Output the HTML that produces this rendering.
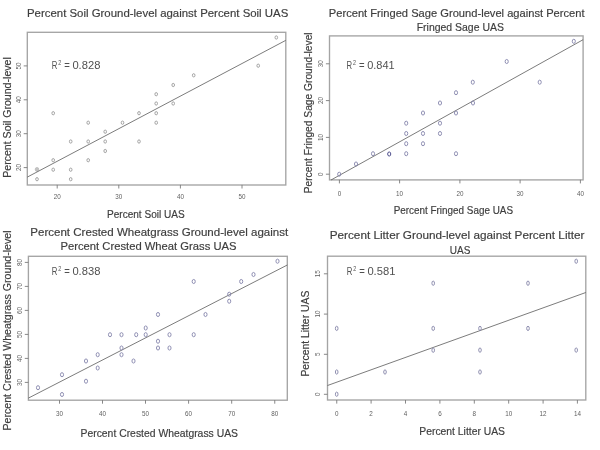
<!DOCTYPE html>
<html><head><meta charset="utf-8"><title>Ground-level vs UAS</title>
<style>
html,body{margin:0;padding:0;background:#fff;}
body{width:600px;height:450px;overflow:hidden;}
svg{display:block;font-family:"Liberation Sans", Arial, sans-serif;}
</style></head>
<body>
<svg width="600" height="450" viewBox="0 0 600 450">
<rect width="600" height="450" fill="#fff"/>
<text x="27.00" y="17.40" font-size="11.59" fill="#3e3e3e" stroke="#3e3e3e" stroke-width="0.18" textLength="261.30" lengthAdjust="spacingAndGlyphs">Percent Soil Ground-level against Percent Soil UAS</text>
<rect x="27.30" y="32.30" width="258.50" height="152.70" fill="none" stroke="#a4a4a4" stroke-width="1.35"/>
<line x1="23.70" y1="167.60" x2="27.30" y2="167.60" stroke="#7a7a7a" stroke-width="0.9"/>
<text transform="translate(20.60,167.60) rotate(-90)" x="-3.50" y="0" font-size="7.2" fill="#5e5e5e" textLength="7.00" lengthAdjust="spacingAndGlyphs">20</text>
<line x1="23.70" y1="133.70" x2="27.30" y2="133.70" stroke="#7a7a7a" stroke-width="0.9"/>
<text transform="translate(20.60,133.70) rotate(-90)" x="-3.50" y="0" font-size="7.2" fill="#5e5e5e" textLength="7.00" lengthAdjust="spacingAndGlyphs">30</text>
<line x1="23.70" y1="99.80" x2="27.30" y2="99.80" stroke="#7a7a7a" stroke-width="0.9"/>
<text transform="translate(20.60,99.80) rotate(-90)" x="-3.50" y="0" font-size="7.2" fill="#5e5e5e" textLength="7.00" lengthAdjust="spacingAndGlyphs">40</text>
<line x1="23.70" y1="65.90" x2="27.30" y2="65.90" stroke="#7a7a7a" stroke-width="0.9"/>
<text transform="translate(20.60,65.90) rotate(-90)" x="-3.50" y="0" font-size="7.2" fill="#5e5e5e" textLength="7.00" lengthAdjust="spacingAndGlyphs">50</text>
<line x1="57.20" y1="184.90" x2="57.20" y2="188.50" stroke="#7a7a7a" stroke-width="0.9"/>
<text x="53.70" y="199.10" font-size="7.2" fill="#5e5e5e" textLength="7.00" lengthAdjust="spacingAndGlyphs">20</text>
<line x1="118.80" y1="184.90" x2="118.80" y2="188.50" stroke="#7a7a7a" stroke-width="0.9"/>
<text x="115.30" y="199.10" font-size="7.2" fill="#5e5e5e" textLength="7.00" lengthAdjust="spacingAndGlyphs">30</text>
<line x1="180.40" y1="184.90" x2="180.40" y2="188.50" stroke="#7a7a7a" stroke-width="0.9"/>
<text x="176.90" y="199.10" font-size="7.2" fill="#5e5e5e" textLength="7.00" lengthAdjust="spacingAndGlyphs">40</text>
<line x1="242.00" y1="184.90" x2="242.00" y2="188.50" stroke="#7a7a7a" stroke-width="0.9"/>
<text x="238.50" y="199.10" font-size="7.2" fill="#5e5e5e" textLength="7.00" lengthAdjust="spacingAndGlyphs">50</text>
<ellipse cx="37.0" cy="169.4" rx="1.8" ry="2.0" fill="#c4c4c4" stroke="#b0b0b0" stroke-width="0.6"/>
<line x1="27.30" y1="177.10" x2="285.70" y2="40.40" stroke="#5a5a5a" stroke-width="0.8"/>
<ellipse cx="276.30" cy="37.50" rx="1.3" ry="1.65" fill="none" stroke="#959595" stroke-width="0.85"/>
<ellipse cx="258.20" cy="65.70" rx="1.3" ry="1.65" fill="none" stroke="#959595" stroke-width="0.85"/>
<ellipse cx="193.70" cy="75.30" rx="1.3" ry="1.65" fill="none" stroke="#959595" stroke-width="0.85"/>
<ellipse cx="173.20" cy="85.00" rx="1.3" ry="1.65" fill="none" stroke="#959595" stroke-width="0.85"/>
<ellipse cx="156.20" cy="94.20" rx="1.3" ry="1.65" fill="none" stroke="#959595" stroke-width="0.85"/>
<ellipse cx="156.20" cy="103.50" rx="1.3" ry="1.65" fill="none" stroke="#959595" stroke-width="0.85"/>
<ellipse cx="173.20" cy="103.50" rx="1.3" ry="1.65" fill="none" stroke="#959595" stroke-width="0.85"/>
<ellipse cx="156.20" cy="113.20" rx="1.3" ry="1.65" fill="none" stroke="#959595" stroke-width="0.85"/>
<ellipse cx="139.00" cy="113.20" rx="1.3" ry="1.65" fill="none" stroke="#959595" stroke-width="0.85"/>
<ellipse cx="53.20" cy="113.20" rx="1.3" ry="1.65" fill="none" stroke="#959595" stroke-width="0.85"/>
<ellipse cx="88.20" cy="122.70" rx="1.3" ry="1.65" fill="none" stroke="#959595" stroke-width="0.85"/>
<ellipse cx="122.50" cy="122.70" rx="1.3" ry="1.65" fill="none" stroke="#959595" stroke-width="0.85"/>
<ellipse cx="156.20" cy="122.70" rx="1.3" ry="1.65" fill="none" stroke="#959595" stroke-width="0.85"/>
<ellipse cx="105.20" cy="131.70" rx="1.3" ry="1.65" fill="none" stroke="#959595" stroke-width="0.85"/>
<ellipse cx="70.70" cy="141.50" rx="1.3" ry="1.65" fill="none" stroke="#959595" stroke-width="0.85"/>
<ellipse cx="88.20" cy="141.50" rx="1.3" ry="1.65" fill="none" stroke="#959595" stroke-width="0.85"/>
<ellipse cx="105.20" cy="141.50" rx="1.3" ry="1.65" fill="none" stroke="#959595" stroke-width="0.85"/>
<ellipse cx="139.00" cy="141.50" rx="1.3" ry="1.65" fill="none" stroke="#959595" stroke-width="0.85"/>
<ellipse cx="105.20" cy="151.00" rx="1.3" ry="1.65" fill="none" stroke="#959595" stroke-width="0.85"/>
<ellipse cx="53.20" cy="160.20" rx="1.3" ry="1.65" fill="none" stroke="#959595" stroke-width="0.85"/>
<ellipse cx="88.20" cy="160.20" rx="1.3" ry="1.65" fill="none" stroke="#959595" stroke-width="0.85"/>
<ellipse cx="53.20" cy="169.70" rx="1.3" ry="1.65" fill="none" stroke="#959595" stroke-width="0.85"/>
<ellipse cx="70.70" cy="169.70" rx="1.3" ry="1.65" fill="none" stroke="#959595" stroke-width="0.85"/>
<ellipse cx="37.00" cy="179.20" rx="1.3" ry="1.65" fill="none" stroke="#959595" stroke-width="0.85"/>
<ellipse cx="70.70" cy="179.20" rx="1.3" ry="1.65" fill="none" stroke="#959595" stroke-width="0.85"/>
<text x="51.80" y="68.50" font-size="10.34" fill="#505050" textLength="5.6" lengthAdjust="spacingAndGlyphs">R</text>
<text x="58.30" y="64.80" font-size="7.85" fill="#505050" textLength="3.0" lengthAdjust="spacingAndGlyphs">2</text>
<text x="64.20" y="68.50" font-size="10.34" fill="#505050" textLength="5.6" lengthAdjust="spacingAndGlyphs">=</text>
<text x="72.40" y="68.50" font-size="10.34" fill="#505050" textLength="28.00" lengthAdjust="spacingAndGlyphs">0.828</text>
<text x="107.00" y="217.50" font-size="10.47" fill="#3e3e3e" stroke="#3e3e3e" stroke-width="0.18" textLength="77.70" lengthAdjust="spacingAndGlyphs">Percent Soil UAS</text>
<text transform="translate(10.50,177.80) rotate(-90)" x="0" y="0" font-size="10.47" fill="#3e3e3e" stroke="#3e3e3e" stroke-width="0.18" textLength="120.60" lengthAdjust="spacingAndGlyphs">Percent Soil Ground-level</text>
<text x="328.80" y="16.60" font-size="11.59" fill="#3e3e3e" stroke="#3e3e3e" stroke-width="0.18" textLength="255.80" lengthAdjust="spacingAndGlyphs">Percent Fringed Sage Ground-level against Percent</text>
<text x="416.70" y="30.90" font-size="11.59" fill="#3e3e3e" stroke="#3e3e3e" stroke-width="0.18" textLength="87.20" lengthAdjust="spacingAndGlyphs">Fringed Sage UAS</text>
<rect x="329.50" y="35.90" width="253.60" height="144.00" fill="none" stroke="#a4a4a4" stroke-width="1.35"/>
<line x1="325.90" y1="174.20" x2="329.50" y2="174.20" stroke="#7a7a7a" stroke-width="0.9"/>
<text transform="translate(323.00,174.20) rotate(-90)" x="-1.75" y="0" font-size="7.2" fill="#5e5e5e" textLength="3.50" lengthAdjust="spacingAndGlyphs">0</text>
<line x1="325.90" y1="137.40" x2="329.50" y2="137.40" stroke="#7a7a7a" stroke-width="0.9"/>
<text transform="translate(323.00,137.40) rotate(-90)" x="-3.50" y="0" font-size="7.2" fill="#5e5e5e" textLength="7.00" lengthAdjust="spacingAndGlyphs">10</text>
<line x1="325.90" y1="100.60" x2="329.50" y2="100.60" stroke="#7a7a7a" stroke-width="0.9"/>
<text transform="translate(323.00,100.60) rotate(-90)" x="-3.50" y="0" font-size="7.2" fill="#5e5e5e" textLength="7.00" lengthAdjust="spacingAndGlyphs">20</text>
<line x1="325.90" y1="63.80" x2="329.50" y2="63.80" stroke="#7a7a7a" stroke-width="0.9"/>
<text transform="translate(323.00,63.80) rotate(-90)" x="-3.50" y="0" font-size="7.2" fill="#5e5e5e" textLength="7.00" lengthAdjust="spacingAndGlyphs">30</text>
<line x1="339.40" y1="179.80" x2="339.40" y2="183.40" stroke="#7a7a7a" stroke-width="0.9"/>
<text x="337.65" y="195.80" font-size="7.2" fill="#5e5e5e" textLength="3.50" lengthAdjust="spacingAndGlyphs">0</text>
<line x1="399.60" y1="179.80" x2="399.60" y2="183.40" stroke="#7a7a7a" stroke-width="0.9"/>
<text x="396.10" y="195.80" font-size="7.2" fill="#5e5e5e" textLength="7.00" lengthAdjust="spacingAndGlyphs">10</text>
<line x1="459.90" y1="179.80" x2="459.90" y2="183.40" stroke="#7a7a7a" stroke-width="0.9"/>
<text x="456.40" y="195.80" font-size="7.2" fill="#5e5e5e" textLength="7.00" lengthAdjust="spacingAndGlyphs">20</text>
<line x1="520.10" y1="179.80" x2="520.10" y2="183.40" stroke="#7a7a7a" stroke-width="0.9"/>
<text x="516.60" y="195.80" font-size="7.2" fill="#5e5e5e" textLength="7.00" lengthAdjust="spacingAndGlyphs">30</text>
<line x1="580.40" y1="179.80" x2="580.40" y2="183.40" stroke="#7a7a7a" stroke-width="0.9"/>
<text x="576.90" y="195.80" font-size="7.2" fill="#5e5e5e" textLength="7.00" lengthAdjust="spacingAndGlyphs">40</text>
<line x1="331.00" y1="180.00" x2="583.10" y2="39.70" stroke="#5a5a5a" stroke-width="0.8"/>
<ellipse cx="339.20" cy="174.20" rx="1.55" ry="2.05" fill="none" stroke="#8585ac" stroke-width="0.9"/>
<ellipse cx="356.00" cy="164.00" rx="1.55" ry="2.05" fill="none" stroke="#8585ac" stroke-width="0.9"/>
<ellipse cx="373.00" cy="153.70" rx="1.55" ry="2.05" fill="none" stroke="#8585ac" stroke-width="0.9"/>
<ellipse cx="406.20" cy="153.70" rx="1.55" ry="2.05" fill="none" stroke="#8585ac" stroke-width="0.9"/>
<ellipse cx="406.20" cy="143.70" rx="1.55" ry="2.05" fill="none" stroke="#8585ac" stroke-width="0.9"/>
<ellipse cx="406.20" cy="133.50" rx="1.55" ry="2.05" fill="none" stroke="#8585ac" stroke-width="0.9"/>
<ellipse cx="406.20" cy="123.20" rx="1.55" ry="2.05" fill="none" stroke="#8585ac" stroke-width="0.9"/>
<ellipse cx="423.00" cy="113.00" rx="1.55" ry="2.05" fill="none" stroke="#8585ac" stroke-width="0.9"/>
<ellipse cx="423.00" cy="133.50" rx="1.55" ry="2.05" fill="none" stroke="#8585ac" stroke-width="0.9"/>
<ellipse cx="423.00" cy="143.70" rx="1.55" ry="2.05" fill="none" stroke="#8585ac" stroke-width="0.9"/>
<ellipse cx="440.00" cy="103.00" rx="1.55" ry="2.05" fill="none" stroke="#8585ac" stroke-width="0.9"/>
<ellipse cx="440.00" cy="123.20" rx="1.55" ry="2.05" fill="none" stroke="#8585ac" stroke-width="0.9"/>
<ellipse cx="440.00" cy="133.50" rx="1.55" ry="2.05" fill="none" stroke="#8585ac" stroke-width="0.9"/>
<ellipse cx="456.00" cy="113.00" rx="1.55" ry="2.05" fill="none" stroke="#8585ac" stroke-width="0.9"/>
<ellipse cx="456.00" cy="153.70" rx="1.55" ry="2.05" fill="none" stroke="#8585ac" stroke-width="0.9"/>
<ellipse cx="473.00" cy="103.00" rx="1.55" ry="2.05" fill="none" stroke="#8585ac" stroke-width="0.9"/>
<ellipse cx="573.80" cy="41.30" rx="1.55" ry="2.05" fill="none" stroke="#8585ac" stroke-width="0.9"/>
<ellipse cx="506.70" cy="61.50" rx="1.55" ry="2.05" fill="none" stroke="#8585ac" stroke-width="0.9"/>
<ellipse cx="539.70" cy="82.20" rx="1.55" ry="2.05" fill="none" stroke="#8585ac" stroke-width="0.9"/>
<ellipse cx="472.80" cy="82.20" rx="1.55" ry="2.05" fill="none" stroke="#8585ac" stroke-width="0.9"/>
<ellipse cx="456.00" cy="92.70" rx="1.55" ry="2.05" fill="none" stroke="#8585ac" stroke-width="0.9"/>
<ellipse cx="389.20" cy="154.00" rx="1.55" ry="2.05" fill="none" stroke="#50508e" stroke-width="1.0"/>
<text x="346.60" y="68.80" font-size="10.34" fill="#505050" textLength="5.6" lengthAdjust="spacingAndGlyphs">R</text>
<text x="353.10" y="65.10" font-size="7.85" fill="#505050" textLength="3.0" lengthAdjust="spacingAndGlyphs">2</text>
<text x="359.00" y="68.80" font-size="10.34" fill="#505050" textLength="5.6" lengthAdjust="spacingAndGlyphs">=</text>
<text x="367.20" y="68.80" font-size="10.34" fill="#505050" textLength="27.50" lengthAdjust="spacingAndGlyphs">0.841</text>
<text x="393.70" y="213.60" font-size="10.34" fill="#3e3e3e" stroke="#3e3e3e" stroke-width="0.18" textLength="119.30" lengthAdjust="spacingAndGlyphs">Percent Fringed Sage UAS</text>
<text transform="translate(312.30,193.30) rotate(-90)" x="0" y="0" font-size="10.47" fill="#3e3e3e" stroke="#3e3e3e" stroke-width="0.18" textLength="160.90" lengthAdjust="spacingAndGlyphs">Percent Fringed Sage Ground-level</text>
<text x="30.30" y="235.70" font-size="11.59" fill="#3e3e3e" stroke="#3e3e3e" stroke-width="0.18" textLength="257.90" lengthAdjust="spacingAndGlyphs">Percent Crested Wheatgrass Ground-level against</text>
<text x="60.50" y="250.30" font-size="11.59" fill="#3e3e3e" stroke="#3e3e3e" stroke-width="0.18" textLength="176.00" lengthAdjust="spacingAndGlyphs">Percent Crested Wheat Grass UAS</text>
<rect x="28.40" y="256.30" width="258.90" height="143.90" fill="none" stroke="#a4a4a4" stroke-width="1.35"/>
<line x1="24.80" y1="382.40" x2="28.40" y2="382.40" stroke="#7a7a7a" stroke-width="0.9"/>
<text transform="translate(21.50,382.40) rotate(-90)" x="-3.50" y="0" font-size="7.2" fill="#5e5e5e" textLength="7.00" lengthAdjust="spacingAndGlyphs">30</text>
<line x1="24.80" y1="358.40" x2="28.40" y2="358.40" stroke="#7a7a7a" stroke-width="0.9"/>
<text transform="translate(21.50,358.40) rotate(-90)" x="-3.50" y="0" font-size="7.2" fill="#5e5e5e" textLength="7.00" lengthAdjust="spacingAndGlyphs">40</text>
<line x1="24.80" y1="334.40" x2="28.40" y2="334.40" stroke="#7a7a7a" stroke-width="0.9"/>
<text transform="translate(21.50,334.40) rotate(-90)" x="-3.50" y="0" font-size="7.2" fill="#5e5e5e" textLength="7.00" lengthAdjust="spacingAndGlyphs">50</text>
<line x1="24.80" y1="310.40" x2="28.40" y2="310.40" stroke="#7a7a7a" stroke-width="0.9"/>
<text transform="translate(21.50,310.40) rotate(-90)" x="-3.50" y="0" font-size="7.2" fill="#5e5e5e" textLength="7.00" lengthAdjust="spacingAndGlyphs">60</text>
<line x1="24.80" y1="286.40" x2="28.40" y2="286.40" stroke="#7a7a7a" stroke-width="0.9"/>
<text transform="translate(21.50,286.40) rotate(-90)" x="-3.50" y="0" font-size="7.2" fill="#5e5e5e" textLength="7.00" lengthAdjust="spacingAndGlyphs">70</text>
<line x1="24.80" y1="262.40" x2="28.40" y2="262.40" stroke="#7a7a7a" stroke-width="0.9"/>
<text transform="translate(21.50,262.40) rotate(-90)" x="-3.50" y="0" font-size="7.2" fill="#5e5e5e" textLength="7.00" lengthAdjust="spacingAndGlyphs">80</text>
<line x1="59.50" y1="400.10" x2="59.50" y2="403.70" stroke="#7a7a7a" stroke-width="0.9"/>
<text x="56.00" y="416.00" font-size="7.2" fill="#5e5e5e" textLength="7.00" lengthAdjust="spacingAndGlyphs">30</text>
<line x1="102.50" y1="400.10" x2="102.50" y2="403.70" stroke="#7a7a7a" stroke-width="0.9"/>
<text x="99.00" y="416.00" font-size="7.2" fill="#5e5e5e" textLength="7.00" lengthAdjust="spacingAndGlyphs">40</text>
<line x1="145.50" y1="400.10" x2="145.50" y2="403.70" stroke="#7a7a7a" stroke-width="0.9"/>
<text x="142.00" y="416.00" font-size="7.2" fill="#5e5e5e" textLength="7.00" lengthAdjust="spacingAndGlyphs">50</text>
<line x1="188.60" y1="400.10" x2="188.60" y2="403.70" stroke="#7a7a7a" stroke-width="0.9"/>
<text x="185.10" y="416.00" font-size="7.2" fill="#5e5e5e" textLength="7.00" lengthAdjust="spacingAndGlyphs">60</text>
<line x1="231.70" y1="400.10" x2="231.70" y2="403.70" stroke="#7a7a7a" stroke-width="0.9"/>
<text x="228.20" y="416.00" font-size="7.2" fill="#5e5e5e" textLength="7.00" lengthAdjust="spacingAndGlyphs">70</text>
<line x1="274.75" y1="400.10" x2="274.75" y2="403.70" stroke="#7a7a7a" stroke-width="0.9"/>
<text x="271.25" y="416.00" font-size="7.2" fill="#5e5e5e" textLength="7.00" lengthAdjust="spacingAndGlyphs">80</text>
<line x1="28.40" y1="398.10" x2="287.30" y2="265.00" stroke="#5a5a5a" stroke-width="0.8"/>
<ellipse cx="38.00" cy="387.70" rx="1.55" ry="2.05" fill="none" stroke="#8585ac" stroke-width="0.9"/>
<ellipse cx="62.00" cy="394.50" rx="1.55" ry="2.05" fill="none" stroke="#8585ac" stroke-width="0.9"/>
<ellipse cx="62.00" cy="374.70" rx="1.55" ry="2.05" fill="none" stroke="#8585ac" stroke-width="0.9"/>
<ellipse cx="86.00" cy="381.20" rx="1.55" ry="2.05" fill="none" stroke="#8585ac" stroke-width="0.9"/>
<ellipse cx="86.00" cy="361.00" rx="1.55" ry="2.05" fill="none" stroke="#8585ac" stroke-width="0.9"/>
<ellipse cx="97.70" cy="354.70" rx="1.55" ry="2.05" fill="none" stroke="#8585ac" stroke-width="0.9"/>
<ellipse cx="97.70" cy="368.00" rx="1.55" ry="2.05" fill="none" stroke="#8585ac" stroke-width="0.9"/>
<ellipse cx="110.00" cy="334.70" rx="1.55" ry="2.05" fill="none" stroke="#8585ac" stroke-width="0.9"/>
<ellipse cx="121.50" cy="334.70" rx="1.55" ry="2.05" fill="none" stroke="#8585ac" stroke-width="0.9"/>
<ellipse cx="121.50" cy="348.00" rx="1.55" ry="2.05" fill="none" stroke="#8585ac" stroke-width="0.9"/>
<ellipse cx="121.50" cy="354.70" rx="1.55" ry="2.05" fill="none" stroke="#8585ac" stroke-width="0.9"/>
<ellipse cx="133.50" cy="361.00" rx="1.55" ry="2.05" fill="none" stroke="#8585ac" stroke-width="0.9"/>
<ellipse cx="136.20" cy="334.70" rx="1.55" ry="2.05" fill="none" stroke="#8585ac" stroke-width="0.9"/>
<ellipse cx="145.70" cy="328.00" rx="1.55" ry="2.05" fill="none" stroke="#8585ac" stroke-width="0.9"/>
<ellipse cx="145.70" cy="334.70" rx="1.55" ry="2.05" fill="none" stroke="#8585ac" stroke-width="0.9"/>
<ellipse cx="158.00" cy="314.50" rx="1.55" ry="2.05" fill="none" stroke="#8585ac" stroke-width="0.9"/>
<ellipse cx="158.00" cy="341.20" rx="1.55" ry="2.05" fill="none" stroke="#8585ac" stroke-width="0.9"/>
<ellipse cx="158.00" cy="348.00" rx="1.55" ry="2.05" fill="none" stroke="#8585ac" stroke-width="0.9"/>
<ellipse cx="169.50" cy="334.70" rx="1.55" ry="2.05" fill="none" stroke="#8585ac" stroke-width="0.9"/>
<ellipse cx="169.50" cy="348.00" rx="1.55" ry="2.05" fill="none" stroke="#8585ac" stroke-width="0.9"/>
<ellipse cx="277.50" cy="261.20" rx="1.55" ry="2.05" fill="none" stroke="#8585ac" stroke-width="0.9"/>
<ellipse cx="253.50" cy="274.50" rx="1.55" ry="2.05" fill="none" stroke="#8585ac" stroke-width="0.9"/>
<ellipse cx="241.20" cy="281.50" rx="1.55" ry="2.05" fill="none" stroke="#8585ac" stroke-width="0.9"/>
<ellipse cx="193.70" cy="281.50" rx="1.55" ry="2.05" fill="none" stroke="#8585ac" stroke-width="0.9"/>
<ellipse cx="229.20" cy="294.20" rx="1.55" ry="2.05" fill="none" stroke="#8585ac" stroke-width="0.9"/>
<ellipse cx="229.20" cy="301.20" rx="1.55" ry="2.05" fill="none" stroke="#8585ac" stroke-width="0.9"/>
<ellipse cx="205.50" cy="314.50" rx="1.55" ry="2.05" fill="none" stroke="#8585ac" stroke-width="0.9"/>
<ellipse cx="193.70" cy="334.70" rx="1.55" ry="2.05" fill="none" stroke="#8585ac" stroke-width="0.9"/>
<text x="51.80" y="275.00" font-size="10.34" fill="#505050" textLength="5.6" lengthAdjust="spacingAndGlyphs">R</text>
<text x="58.30" y="271.30" font-size="7.85" fill="#505050" textLength="3.0" lengthAdjust="spacingAndGlyphs">2</text>
<text x="64.20" y="275.00" font-size="10.34" fill="#505050" textLength="5.6" lengthAdjust="spacingAndGlyphs">=</text>
<text x="72.40" y="275.00" font-size="10.34" fill="#505050" textLength="28.00" lengthAdjust="spacingAndGlyphs">0.838</text>
<text x="80.50" y="436.80" font-size="10.47" fill="#3e3e3e" stroke="#3e3e3e" stroke-width="0.18" textLength="157.50" lengthAdjust="spacingAndGlyphs">Percent Crested Wheatgrass UAS</text>
<text transform="translate(11.00,430.60) rotate(-90)" x="0" y="0" font-size="10.20" fill="#3e3e3e" stroke="#3e3e3e" stroke-width="0.18" textLength="200.20" lengthAdjust="spacingAndGlyphs">Percent Crested Wheatgrass Ground-level</text>
<text x="329.70" y="238.50" font-size="11.59" fill="#3e3e3e" stroke="#3e3e3e" stroke-width="0.18" textLength="254.80" lengthAdjust="spacingAndGlyphs">Percent Litter Ground-level against Percent Litter</text>
<text x="449.80" y="253.50" font-size="11.59" fill="#3e3e3e" stroke="#3e3e3e" stroke-width="0.18" textLength="20.60" lengthAdjust="spacingAndGlyphs">UAS</text>
<rect x="327.50" y="256.20" width="258.30" height="143.80" fill="none" stroke="#a4a4a4" stroke-width="1.35"/>
<line x1="323.90" y1="394.30" x2="327.50" y2="394.30" stroke="#7a7a7a" stroke-width="0.9"/>
<text transform="translate(320.00,394.30) rotate(-90)" x="-1.75" y="0" font-size="7.2" fill="#5e5e5e" textLength="3.50" lengthAdjust="spacingAndGlyphs">0</text>
<line x1="323.90" y1="354.30" x2="327.50" y2="354.30" stroke="#7a7a7a" stroke-width="0.9"/>
<text transform="translate(320.00,354.30) rotate(-90)" x="-1.75" y="0" font-size="7.2" fill="#5e5e5e" textLength="3.50" lengthAdjust="spacingAndGlyphs">5</text>
<line x1="323.90" y1="314.10" x2="327.50" y2="314.10" stroke="#7a7a7a" stroke-width="0.9"/>
<text transform="translate(320.00,314.10) rotate(-90)" x="-3.50" y="0" font-size="7.2" fill="#5e5e5e" textLength="7.00" lengthAdjust="spacingAndGlyphs">10</text>
<line x1="323.90" y1="273.80" x2="327.50" y2="273.80" stroke="#7a7a7a" stroke-width="0.9"/>
<text transform="translate(320.00,273.80) rotate(-90)" x="-3.50" y="0" font-size="7.2" fill="#5e5e5e" textLength="7.00" lengthAdjust="spacingAndGlyphs">15</text>
<line x1="336.75" y1="400.00" x2="336.75" y2="403.60" stroke="#7a7a7a" stroke-width="0.9"/>
<text x="335.00" y="416.00" font-size="7.2" fill="#5e5e5e" textLength="3.50" lengthAdjust="spacingAndGlyphs">0</text>
<line x1="371.10" y1="400.00" x2="371.10" y2="403.60" stroke="#7a7a7a" stroke-width="0.9"/>
<text x="369.35" y="416.00" font-size="7.2" fill="#5e5e5e" textLength="3.50" lengthAdjust="spacingAndGlyphs">2</text>
<line x1="405.50" y1="400.00" x2="405.50" y2="403.60" stroke="#7a7a7a" stroke-width="0.9"/>
<text x="403.75" y="416.00" font-size="7.2" fill="#5e5e5e" textLength="3.50" lengthAdjust="spacingAndGlyphs">4</text>
<line x1="439.90" y1="400.00" x2="439.90" y2="403.60" stroke="#7a7a7a" stroke-width="0.9"/>
<text x="438.15" y="416.00" font-size="7.2" fill="#5e5e5e" textLength="3.50" lengthAdjust="spacingAndGlyphs">6</text>
<line x1="474.30" y1="400.00" x2="474.30" y2="403.60" stroke="#7a7a7a" stroke-width="0.9"/>
<text x="472.55" y="416.00" font-size="7.2" fill="#5e5e5e" textLength="3.50" lengthAdjust="spacingAndGlyphs">8</text>
<line x1="508.70" y1="400.00" x2="508.70" y2="403.60" stroke="#7a7a7a" stroke-width="0.9"/>
<text x="505.20" y="416.00" font-size="7.2" fill="#5e5e5e" textLength="7.00" lengthAdjust="spacingAndGlyphs">10</text>
<line x1="543.10" y1="400.00" x2="543.10" y2="403.60" stroke="#7a7a7a" stroke-width="0.9"/>
<text x="539.60" y="416.00" font-size="7.2" fill="#5e5e5e" textLength="7.00" lengthAdjust="spacingAndGlyphs">12</text>
<line x1="577.40" y1="400.00" x2="577.40" y2="403.60" stroke="#7a7a7a" stroke-width="0.9"/>
<text x="573.90" y="416.00" font-size="7.2" fill="#5e5e5e" textLength="7.00" lengthAdjust="spacingAndGlyphs">14</text>
<line x1="327.50" y1="385.50" x2="585.80" y2="292.50" stroke="#5a5a5a" stroke-width="0.8"/>
<ellipse cx="336.70" cy="328.40" rx="1.3" ry="2.15" fill="none" stroke="#8585a8" stroke-width="0.9"/>
<ellipse cx="433.20" cy="328.40" rx="1.3" ry="2.15" fill="none" stroke="#8585a8" stroke-width="0.9"/>
<ellipse cx="433.20" cy="283.20" rx="1.3" ry="2.15" fill="none" stroke="#8585a8" stroke-width="0.9"/>
<ellipse cx="433.20" cy="350.20" rx="1.3" ry="2.15" fill="none" stroke="#8585a8" stroke-width="0.9"/>
<ellipse cx="336.70" cy="372.00" rx="1.3" ry="2.15" fill="none" stroke="#8585a8" stroke-width="0.9"/>
<ellipse cx="385.00" cy="372.00" rx="1.3" ry="2.15" fill="none" stroke="#8585a8" stroke-width="0.9"/>
<ellipse cx="336.70" cy="394.20" rx="1.3" ry="2.15" fill="none" stroke="#8585a8" stroke-width="0.9"/>
<ellipse cx="576.20" cy="261.20" rx="1.3" ry="2.15" fill="none" stroke="#8585a8" stroke-width="0.9"/>
<ellipse cx="528.00" cy="283.20" rx="1.3" ry="2.15" fill="none" stroke="#8585a8" stroke-width="0.9"/>
<ellipse cx="480.00" cy="328.40" rx="1.3" ry="2.15" fill="none" stroke="#8585a8" stroke-width="0.9"/>
<ellipse cx="528.00" cy="328.40" rx="1.3" ry="2.15" fill="none" stroke="#8585a8" stroke-width="0.9"/>
<ellipse cx="480.00" cy="350.10" rx="1.3" ry="2.15" fill="none" stroke="#8585a8" stroke-width="0.9"/>
<ellipse cx="576.20" cy="350.10" rx="1.3" ry="2.15" fill="none" stroke="#8585a8" stroke-width="0.9"/>
<ellipse cx="480.00" cy="372.00" rx="1.3" ry="2.15" fill="none" stroke="#8585a8" stroke-width="0.9"/>
<text x="346.80" y="275.00" font-size="10.34" fill="#505050" textLength="5.6" lengthAdjust="spacingAndGlyphs">R</text>
<text x="353.30" y="271.30" font-size="7.85" fill="#505050" textLength="3.0" lengthAdjust="spacingAndGlyphs">2</text>
<text x="359.20" y="275.00" font-size="10.34" fill="#505050" textLength="5.6" lengthAdjust="spacingAndGlyphs">=</text>
<text x="367.40" y="275.00" font-size="10.34" fill="#505050" textLength="28.00" lengthAdjust="spacingAndGlyphs">0.581</text>
<text x="419.30" y="435.00" font-size="10.47" fill="#3e3e3e" stroke="#3e3e3e" stroke-width="0.18" textLength="85.70" lengthAdjust="spacingAndGlyphs">Percent Litter UAS</text>
<text transform="translate(309.40,376.60) rotate(-90)" x="0" y="0" font-size="10.34" fill="#3e3e3e" stroke="#3e3e3e" stroke-width="0.18" textLength="85.90" lengthAdjust="spacingAndGlyphs">Percent Litter UAS</text>
</svg>
</body></html>
